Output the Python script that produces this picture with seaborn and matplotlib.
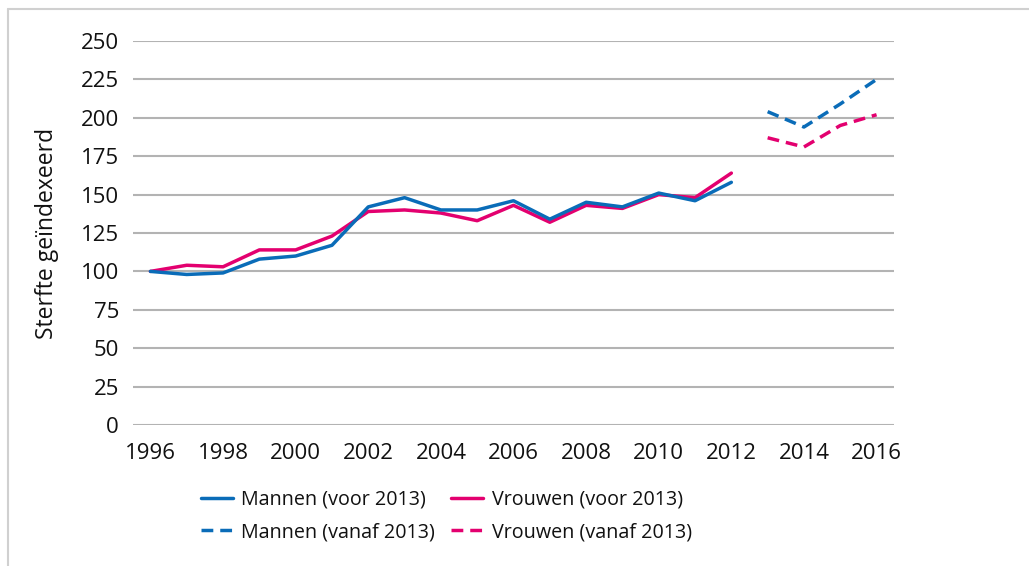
import matplotlib
matplotlib.use("Agg")
import matplotlib.pyplot as plt
import seaborn as sns
import pandas as pd
from matplotlib.lines import Line2D

years_before = list(range(1996, 2013))
men_before = [100, 98, 99, 108, 110, 117, 142, 148, 140, 140, 146, 134, 145, 142, 151, 146, 158]
women_before = [100, 104, 103, 114, 114, 123, 139, 140, 138, 133, 143, 132, 143, 141, 150, 148, 164]
years_after = [2013, 2014, 2015, 2016]
men_after = [204, 194, 209, 225]
women_after = [187, 181, 195, 202]

labels = ["Mannen (voor 2013)", "Vrouwen (voor 2013)",
          "Mannen (vanaf 2013)", "Vrouwen (vanaf 2013)"]
x_ticks = list(range(1996, 2017, 2))
y_ticks = list(range(0, 251, 25))

BLUE = "#0a6cb8"
PINK = "#e3006f"
FONT = ["Open Sans", "DejaVu Sans"]

sns.set_theme(style="white")
plt.rcParams["font.family"] = FONT
plt.rcParams["text.color"] = "#111111"

fig = plt.figure(figsize=(10.29, 5.66), dpi=100)
ax = fig.add_axes([133 / 1029, 1 - 425 / 566, (894 - 133) / 1029, (425 - 41) / 566])

df_b = pd.DataFrame({"jaar": years_before + years_before,
                     "waarde": men_before + women_before,
                     "reeks": [labels[0]] * len(years_before) + [labels[1]] * len(years_before)})
df_a = pd.DataFrame({"jaar": years_after + years_after,
                     "waarde": men_after + women_after,
                     "reeks": [labels[2]] * len(years_after) + [labels[3]] * len(years_after)})

lw = 2.5
dash = (0, (3.4, 2.0))
sns.lineplot(data=df_b, x="jaar", y="waarde", hue="reeks",
             palette={labels[0]: BLUE, labels[1]: PINK},
             hue_order=[labels[1], labels[0]],
             linewidth=lw, ax=ax, legend=False, zorder=3)
sns.lineplot(data=df_a, x="jaar", y="waarde", hue="reeks",
             palette={labels[2]: BLUE, labels[3]: PINK},
             hue_order=[labels[3], labels[2]],
             linewidth=lw, ax=ax, legend=False, zorder=3)
# make the "vanaf 2013" lines dashed
for line in ax.get_lines()[2:]:
    line.set_linestyle(dash)

ax.set_xlim(1995.52, 2016.48)
ax.set_ylim(0, 250)
ax.set_xticks(x_ticks)
ax.set_yticks(y_ticks)
ax.set_xticklabels([str(v) for v in x_ticks])
ax.set_yticklabels([str(v) for v in y_ticks])
ax.tick_params(axis="both", length=0, labelsize=16, colors="#111111")
ax.tick_params(axis="y", pad=10)
ax.tick_params(axis="x", pad=13)
ax.grid(axis="y", color="#b3b3b3", linewidth=1.5, zorder=0)
ax.grid(axis="x", visible=False)
for s in ax.spines.values():
    s.set_visible(False)
ax.set_xlabel("")
ax.set_ylabel("Sterfte geïndexeerd", fontsize=16.5, labelpad=16, color="#111111")

handles = [Line2D([], [], color=BLUE, lw=lw),
           Line2D([], [], color=PINK, lw=lw),
           Line2D([], [], color=BLUE, lw=lw, ls=dash),
           Line2D([], [], color=PINK, lw=lw, ls=dash)]
# order for 2 columns (column-major): col1 = Mannen, col2 = Vrouwen
order = [0, 2, 1, 3]
fig.legend([handles[i] for i in order], [labels[i] for i in order],
           ncol=2, loc="center left", bbox_to_anchor=(201 / 1029, 1 - 516 / 566),
           frameon=False, fontsize=14.2, handlelength=1.6, handletextpad=0.45,
           columnspacing=0.8, labelspacing=0.62, borderpad=0, borderaxespad=0)

# light frame on top and left
fig.add_artist(Line2D([8 / 1029, 8 / 1029], [0, 1 - 9 / 566], transform=fig.transFigure,
                      color="#d0d0d0", lw=1.5))
fig.add_artist(Line2D([8 / 1029, 1], [1 - 9 / 566, 1 - 9 / 566], transform=fig.transFigure,
                      color="#d0d0d0", lw=1.5))

fig.savefig("out.png", dpi=100)
